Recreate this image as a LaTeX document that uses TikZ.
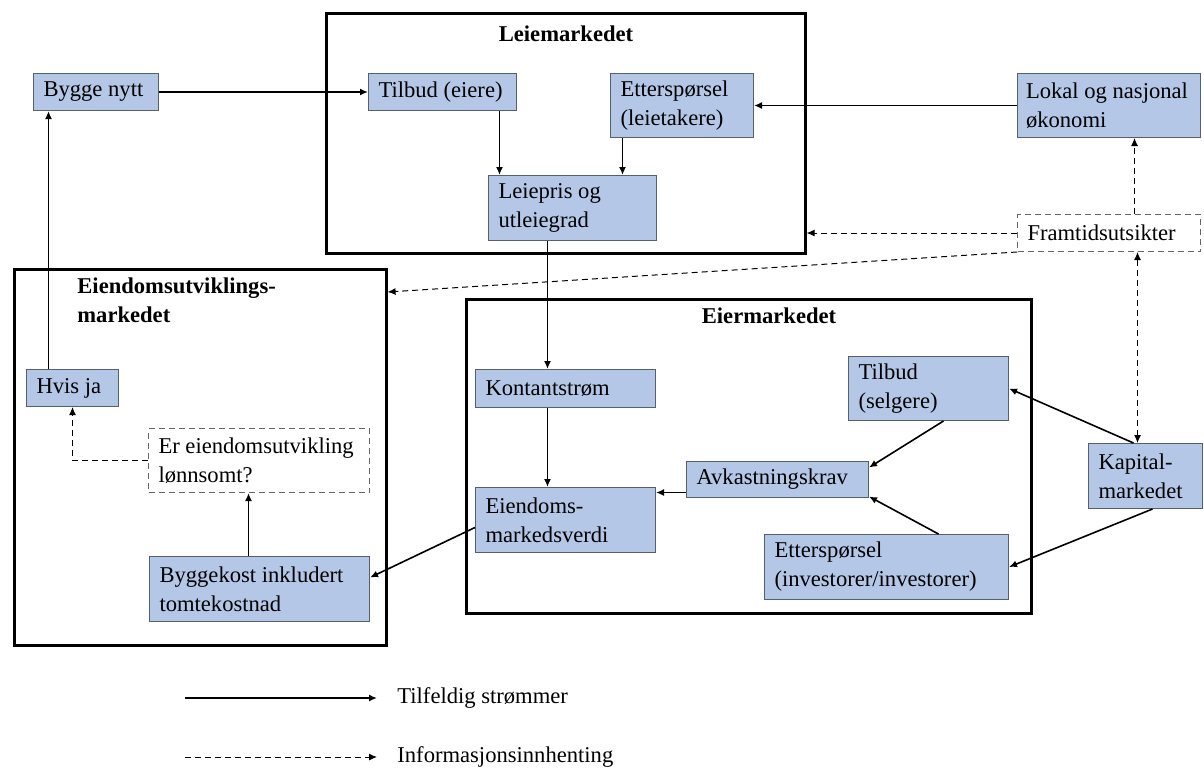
\documentclass[tikz,border=0pt]{standalone}
\usepackage{fontspec}
\setmainfont{Liberation Serif}
\usepackage{tikz}
\usetikzlibrary{positioning,calc,arrows.meta}
\definecolor{boxBlue}{RGB}{180,199,231}
\definecolor{boxEdge}{RGB}{85,95,110}
\colorlet{dashEdge}{gray!80!black}

\begin{document}
\begin{tikzpicture}[x=0.5pt, y=-0.5pt, >={Latex[length=4pt,width=3.5pt]},
        every node/.style={font=\fontsize{11.3}{14.5}\selectfont},
        box/.style={draw=boxEdge, line width=0.5pt, fill=boxBlue, align=flush left, inner xsep=5pt, inner ysep=0pt, anchor=north west},
        askbox/.style={box, draw=dashEdge, fill=white, dash pattern=on 3pt off 2pt},
        market/.style={draw, line width=1.3pt, anchor=north west, inner sep=0pt},
        title/.style={font=\fontsize{11.3}{14.5}\selectfont\bfseries, inner sep=0pt},
        flow/.style={->, line width=0.8pt},
        info/.style={->, line width=0.5pt, dash pattern=on 3pt off 2pt}]
        \useasboundingbox (0,0) rectangle (1204,767);

        \node[market, minimum width=239.5pt, minimum height=120pt] (leie) at (325,12) {};
        \node[market, minimum width=186pt, minimum height=188pt] (utv) at (13,268) {};
        \node[market, minimum width=282.5pt, minimum height=157pt] (eier) at (465,298) {};
        \node[title] (leieT) at (566,34) {Leiemarkedet};
        \node[title, align=flush left, anchor=north west] (utvT) at (77,277) {Eiendomsutviklings-\\markedet};
        \node[title] (eierT) at (769,316) {Eiermarkedet};

        \node[box, text width=52.5pt, minimum height=18.5pt] (bygge) at (33,73) {Bygge nytt};
        \node[box, text width=64pt, minimum height=18.5pt] (tilbudE) at (368,73) {Tilbud (eiere)};
        \node[box, text width=61.5pt, minimum height=32pt] (etterL) at (610,73) {Etterspørsel\\(leietakere)};
        \node[box, text width=74pt, minimum height=32.5pt] (leiepris) at (488,175) {Leiepris og\\utleiegrad};
        \node[box, text width=83pt, inner xsep=4.25pt, minimum height=32pt] (lokal) at (1017,73) {Lokal og nasjonal\\økonomi};
        \node[askbox, text width=81.5pt, minimum height=18.5pt] (framtid) at (1017,214) {Framtidsutsikter};
        \node[box, text width=36pt, minimum height=18.5pt] (hvis) at (26,369) {Hvis ja};
        \node[askbox, text width=100.5pt, minimum height=32pt] (lonn) at (148,428) {Er eiendomsutvikling\\lønnsomt?};
        \node[box, text width=100pt, minimum height=32.5pt] (bkost) at (149,556) {Byggekost inkludert\\tomtekostnad};
        \node[box, text width=80pt, minimum height=19pt] (kontant) at (475,369) {Kontantstrøm};
        \node[box, text width=80pt, minimum height=32.5pt] (verdi) at (475,487) {Eiendoms-\\markedsverdi};
        \node[box, text width=81pt, minimum height=18pt] (avk) at (686,461) {Avkastningskrav};
        \node[box, text width=70pt, minimum height=32pt] (tilbudS) at (848,356) {Tilbud\\(selgere)};
        \node[box, text width=112pt, minimum height=32.5pt] (etterI) at (764,534) {Etterspørsel\\(investorer/investorer)};
        \node[box, text width=47pt, minimum height=32.5pt] (kapital) at (1088,443) {Kapital-\\markedet};

        \draw[flow] (bygge) -- (tilbudE);
        \draw[flow] ([xshift=-12pt]hvis.north) -- ([xshift=-12pt]hvis.north |- bygge.south);
        \draw[flow] ([xshift=28.5pt]tilbudE.south) -- ([xshift=28.5pt]tilbudE.south |- leiepris.north);
        \draw[flow] ([xshift=-29.75pt]etterL.south) -- ([xshift=-29.75pt]etterL.south |- leiepris.north);
        \draw[flow] (lokal.west) -- (lokal.west -| etterL.east);
        \draw[info] ([xshift=12.75pt]framtid.north) -- ([xshift=12.75pt]framtid.north |- lokal.south);
        \draw[info] (framtid.west) -- (framtid.west -| leie.east);
        \draw[info] (framtid.south west) -- ([yshift=-12pt]utv.north east);
        \draw[info, <->] ([xshift=-4pt]kapital.north) -- ([xshift=-4pt]kapital.north |- framtid.south);
        \draw[flow] ([xshift=-12.5pt]leiepris.south) -- ([xshift=-12.5pt]leiepris.south |- kontant.north);
        \draw[flow] ([xshift=-9pt]kontant.south) -- ([xshift=-9pt]kontant.south |- verdi.north);
        \draw[flow] ([yshift=-6.5pt]avk.west) -- ([yshift=-6.5pt]avk.west -| verdi.east);
        \draw[flow] ([xshift=7.5pt]tilbudS.south) -- ([yshift=6pt]avk.east);
        \draw[flow] ([xshift=26pt]etterI.north) -- ([yshift=-8.5pt]avk.east);
        \draw[flow] ([xshift=-6pt]kapital.north) -- (tilbudS.east);
        \draw[flow] ([xshift=3.5pt]kapital.south) -- (etterI.east);
        \draw[flow] ([yshift=-3.75pt]verdi.west) -- ([yshift=5.75pt]bkost.east);
        \draw[flow] ([xshift=-5.5pt]bkost.north) -- ([xshift=-5.5pt]bkost.north |- lonn.south);
        \draw[info] (lonn.west) -| (hvis.south);

        \coordinate (lgA) at (185,698);
        \node[anchor=west, inner xsep=10pt] (lgFlow) at (377,698) {Tilfeldig strømmer};
        \draw[flow] (lgA) -- (lgFlow.west);
        \coordinate (lgB) at (185,757);
        \node[anchor=west, inner xsep=10pt] (lgInfo) at (377,757) {Informasjonsinnhenting};
        \draw[info] (lgB) -- (lgInfo.west);
    \end{tikzpicture}
\end{document}
